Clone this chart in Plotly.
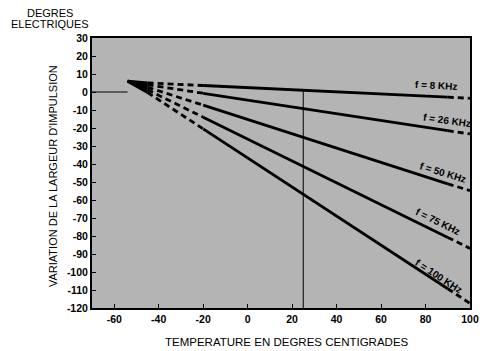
import plotly.graph_objects as go

# ---- data ----
temps = [-54, -45, -20, 25, 90, 100]          # temperature points (deg C)
f8    = [6.0, 5.1, 3.6, 1.0, -2.9, -3.5]
f26   = [6.0, 4.0, -0.7, -9.2, -21.5, -23.3]
f50   = [6.0, 2.6, -7.3, -25.2, -51.0, -54.8]
f75   = [6.0, 1.2, -14.0, -41.3, -80.8, -86.9]
f100  = [6.0, -0.3, -20.5, -56.8, -109.3, -117.4]
series = [("f = 8 KHz", f8), ("f = 26 KHz", f26), ("f = 50 KHz", f50),
          ("f = 75 KHz", f75), ("f = 100 KHz", f100)]

# label positions (temperature, value) and angles
label_x = [84.3, 89.4, 87.2, 85.0, 85.7]
label_y = [2.6, -17.1, -45.6, -73.0, -103.5]
label_angle = [3, 8, 17, 26, 33]

x_ticks = [-60, -40, -20, 0, 20, 40, 60, 80, 100]
x_ticktext = ["-60", "-40", "-20", "0", "20", "40", "60", "80", "100"]
y_ticks = [30, 20, 10, 0, -10, -20, -30, -40, -50, -60, -70, -80, -90, -100, -110, -120]
y_ticktext = ["30", "20", "10", "0", "-10", "-20", "-30", "-40", "-50", "-60",
              "-70", "-80", "-90", "-100", "-110", "-120"]

# reference lines
ref_h_x = [-70, -54]
ref_h_y = [0, 0]
ref_v_x = [25, 25]
ref_v_y = [1.0, -120]

fig = go.Figure()

fig.add_trace(go.Scatter(x=ref_h_x, y=ref_h_y, mode="lines",
                         line=dict(color="black", width=1), hoverinfo="skip"))
fig.add_trace(go.Scatter(x=ref_v_x, y=ref_v_y, mode="lines",
                         line=dict(color="black", width=1), hoverinfo="skip"))

# segments: (start index, end index, dash)
segments = [(0, 1, "solid"), (1, 2, "6px,4px"), (2, 4, "solid"), (4, 5, "6px,4px")]
for name, vals in series:
    for i0, i1, dash in segments:
        fig.add_trace(go.Scatter(x=temps[i0:i1 + 1], y=vals[i0:i1 + 1], mode="lines",
                                 line=dict(color="black", width=2.8, dash=dash),
                                 name=name, hoverinfo="skip"))

font_family = "Liberation Sans, Arial, sans-serif"
for (name, _), lx, ly, ang in zip(series, label_x, label_y, label_angle):
    fig.add_annotation(x=lx, y=ly, text=name, showarrow=False, textangle=ang,
                       xanchor="center", yanchor="middle", yshift=2, xshift=1,
                       font=dict(family=font_family, size=10, color="black", weight=700))

def paper_text(x, y, text, size, angle=0):
    fig.add_annotation(xref="paper", yref="paper", x=x, y=y, text=text,
                       showarrow=False, textangle=angle, xanchor="center", yanchor="middle",
                       font=dict(family=font_family, size=size, color="black"))

paper_text(-0.11, 1.092, "DEGRES", 11)
paper_text(-0.11, 1.050, "ELECTRIQUES", 11)
paper_text(-0.105, 0.49, "VARIATION DE LA LARGEUR D'IMPULSION", 11, angle=-90)
paper_text(0.515, -0.125, "TEMPERATURE EN DEGRES CENTIGRADES", 11.5)

# the page body adds an 8px margin, so the figure is 8px smaller and margins shifted
fig.update_layout(
    width=483, height=343,
    margin=dict(l=84, r=19, t=30, b=43),
    paper_bgcolor="white",
    plot_bgcolor="#b4b4b4",
    showlegend=False,
    font=dict(family=font_family, color="black"),
)
fig.update_xaxes(range=[-70, 100], tickvals=x_ticks, ticktext=x_ticktext,
                 showgrid=False, zeroline=False, showline=True, linecolor="black",
                 linewidth=2, mirror=True, ticks="inside", ticklen=4, tickcolor="black",
                 tickfont=dict(size=10.5, weight=700, family=font_family))
fig.update_yaxes(range=[-120, 30], tickvals=y_ticks, ticktext=y_ticktext,
                 showgrid=False, zeroline=False, showline=True, linecolor="black",
                 linewidth=2, mirror=True, ticks="inside", ticklen=4, tickcolor="black",
                 tickfont=dict(size=10.5, weight=700, family=font_family))

fig.write_html("out.html")
